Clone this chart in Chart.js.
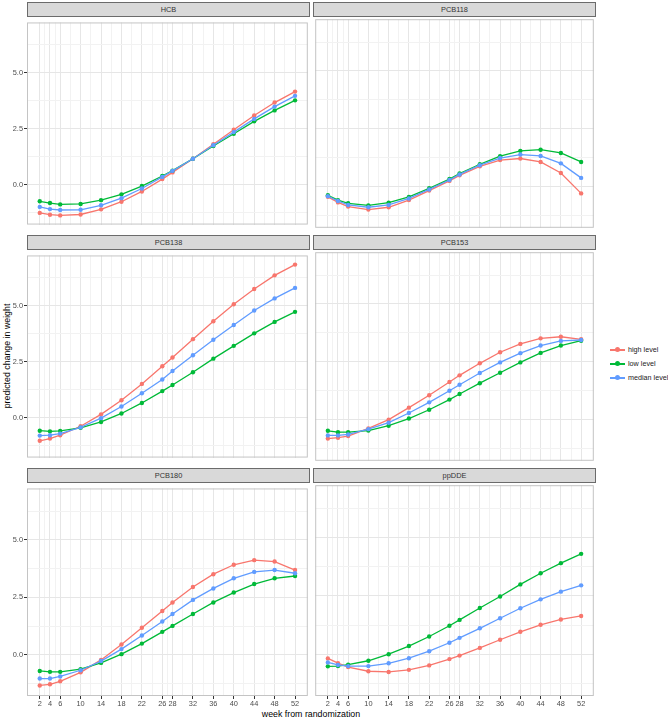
<!DOCTYPE html>
<html>
<head>
<meta charset="utf-8">
<script src="https://cdn.jsdelivr.net/npm/chart.js@4.4.1/dist/chart.umd.min.js"></script>
<style>
  body { margin: 0; background: #ffffff; font-family: "Liberation Sans", Arial, sans-serif; }
  #page { position: relative; width: 668px; height: 720px; overflow: hidden; }
  .strip { position: absolute; height: 15px; background: #d9d9d9; border: 1px solid #6b6b6b;
           box-sizing: border-box; font-size: 7.4px; font-weight: normal; color: #333333;
           text-align: center; line-height: 13px; }
  .cv { position: absolute; }
  #ytitle { position: absolute; left: 7px; top: 356px; transform: translate(-50%, -50%) rotate(-90deg);
            font-size: 8.8px; color: #000; white-space: nowrap; }
  #xtitle { position: absolute; left: 311px; top: 714px; transform: translate(-50%, -50%);
            font-size: 8.8px; color: #000; white-space: nowrap; }
  .leg { position: absolute; left: 610px; height: 12px; font-size: 7.2px; color: #1a1a1a; white-space: nowrap; }
  .leg .ln { position: absolute; left: 0; top: 5px; width: 15px; height: 1.5px; }
  .leg .pt { position: absolute; left: 5px; top: 3px; width: 5px; height: 5px; border-radius: 50%; }
  .leg .tx { position: absolute; left: 18px; top: 0; line-height: 11px; }
</style>
</head>
<body>
<div id="page">
  <div id="ytitle">predicted change in weight</div>
  <div id="xtitle">week from randomization</div>
</div>
<script>
const weeks = [2, 4, 6, 10, 14, 18, 22, 26, 28, 32, 36, 40, 44, 48, 52];
const minorWeeks = [3, 5, 8, 12, 16, 20, 24, 27, 30, 34, 38, 42, 46, 50];
const yMajor = [0, 2.5, 5];
const yMinor = [-1.25, 1.25, 3.75, 6.25];
const levels = ["high level", "low level", "median level"];
const levelColors = ["#F8766D", "#00BA38", "#619CFF"];
const panelNames = ["HCB", "PCB118", "PCB138", "PCB153", "PCB180", "ppDDE"];

const hcbHigh = [-1.27, -1.35, -1.38, -1.34, -1.11, -0.77, -0.31, 0.24, 0.54, 1.15, 1.80, 2.45, 3.08, 3.66, 4.15];
const hcbLow = [-0.75, -0.83, -0.89, -0.87, -0.70, -0.44, -0.07, 0.38, 0.62, 1.15, 1.72, 2.27, 2.82, 3.31, 3.76];
const hcbMedian = [-1.00, -1.10, -1.14, -1.13, -0.93, -0.61, -0.18, 0.34, 0.61, 1.15, 1.75, 2.34, 2.93, 3.48, 3.96];

const pcb118High = [-0.45, -0.69, -0.87, -1.00, -0.90, -0.59, -0.18, 0.24, 0.48, 0.87, 1.14, 1.21, 1.06, 0.58, -0.30];
const pcb118Low = [-0.38, -0.59, -0.73, -0.82, -0.70, -0.45, -0.08, 0.32, 0.56, 0.96, 1.31, 1.54, 1.59, 1.45, 1.06];
const pcb118Median = [-0.42, -0.63, -0.80, -0.90, -0.80, -0.52, -0.13, 0.28, 0.52, 0.92, 1.23, 1.38, 1.32, 1.00, 0.37];

const pcb138High = [-1.04, -0.94, -0.79, -0.39, 0.14, 0.77, 1.50, 2.29, 2.68, 3.50, 4.30, 5.06, 5.74, 6.35, 6.83];
const pcb138Low = [-0.59, -0.62, -0.60, -0.46, -0.20, 0.18, 0.65, 1.18, 1.45, 2.02, 2.63, 3.20, 3.76, 4.27, 4.72];
const pcb138Median = [-0.81, -0.79, -0.72, -0.44, -0.03, 0.49, 1.08, 1.70, 2.08, 2.78, 3.47, 4.13, 4.78, 5.32, 5.79];

const pcb153High = [-0.83, -0.79, -0.72, -0.39, -0.01, 0.51, 1.05, 1.62, 1.91, 2.43, 2.91, 3.27, 3.51, 3.58, 3.47];
const pcb153Low = [-0.49, -0.55, -0.55, -0.48, -0.27, 0.04, 0.42, 0.86, 1.10, 1.57, 2.02, 2.47, 2.88, 3.20, 3.41];
const pcb153Median = [-0.69, -0.69, -0.65, -0.42, -0.14, 0.28, 0.74, 1.24, 1.50, 2.01, 2.47, 2.87, 3.20, 3.40, 3.44];

const pcb180High = [-1.33, -1.28, -1.15, -0.76, -0.22, 0.45, 1.18, 1.91, 2.28, 2.95, 3.51, 3.92, 4.12, 4.06, 3.69];
const pcb180Low = [-0.70, -0.74, -0.74, -0.62, -0.35, 0.03, 0.49, 1.00, 1.26, 1.78, 2.28, 2.71, 3.08, 3.33, 3.43];
const pcb180Median = [-1.03, -1.03, -0.94, -0.67, -0.27, 0.25, 0.84, 1.45, 1.78, 2.39, 2.89, 3.33, 3.61, 3.69, 3.55];

const ppddeHigh = [-0.18, -0.38, -0.55, -0.73, -0.76, -0.67, -0.48, -0.21, -0.06, 0.27, 0.62, 0.96, 1.26, 1.49, 1.64];
const ppddeLow = [-0.52, -0.51, -0.45, -0.28, 0.00, 0.35, 0.76, 1.22, 1.47, 1.98, 2.47, 2.99, 3.47, 3.90, 4.30];
const ppddeMedian = [-0.35, -0.46, -0.51, -0.51, -0.39, -0.17, 0.13, 0.49, 0.70, 1.11, 1.54, 1.97, 2.35, 2.68, 2.95];

const panelSeries = [
  [hcbHigh, hcbLow, hcbMedian],
  [pcb118High, pcb118Low, pcb118Median],
  [pcb138High, pcb138Low, pcb138Median],
  [pcb153High, pcb153Low, pcb153Median],
  [pcb180High, pcb180Low, pcb180Median],
  [ppddeHigh, ppddeLow, ppddeMedian],
];

const Y_MIN = -1.79;
const Y_MAX = 7.24;
const X_MIN = -0.5;
const X_MAX = 54.5;

const PANEL_W = 283;
const PANEL_H = 213;
const COL_X = [27, 313];
const ROW_Y = [17, 250, 483];
const AXIS_W = 27;
const AXIS_H = 18;
const TICK_FONT = { family: "'Liberation Sans', Arial, sans-serif", size: 7.4 };

const page = document.getElementById("page");

const borderPlugin = {
  id: "panelBorder",
  afterDraw(chart) {
    const a = chart.chartArea;
    const ctx = chart.ctx;
    ctx.save();
    ctx.strokeStyle = "#c4c4c4";
    ctx.lineWidth = 1;
    ctx.strokeRect(a.left + 0.5, a.top + 0.5, a.right - a.left - 1, a.bottom - a.top - 1);
    ctx.restore();
  },
};

function isMajor(list, v) {
  return list.some((m) => Math.abs(m - v) < 1e-6);
}

function makePanel(i) {
  const col = i % 2;
  const row = Math.floor(i / 2);
  const showY = col === 0;
  const showX = row === 2;
  const leftW = showY ? AXIS_W : 0;
  const bottomH = showX ? AXIS_H : 0;

  // strip
  const strip = document.createElement("div");
  strip.className = "strip";
  strip.style.left = COL_X[col] + "px";
  strip.style.top = ROW_Y[row] - 15 + "px";
  strip.style.width = PANEL_W + "px";
  strip.textContent = panelNames[i];
  page.appendChild(strip);

  const cv = document.createElement("canvas");
  cv.className = "cv";
  cv.width = leftW + PANEL_W;
  cv.height = PANEL_H + bottomH;
  cv.style.left = COL_X[col] - leftW + "px";
  cv.style.top = ROW_Y[row] + "px";
  page.appendChild(cv);

  const datasets = panelSeries[i].map((vals, k) => ({
    label: levels[k],
    data: weeks.map((w, j) => ({ x: w, y: vals[j] })),
    borderColor: levelColors[k],
    backgroundColor: levelColors[k],
    borderWidth: 1.3,
    pointRadius: 2.2,
    pointHoverRadius: 2.2,
    pointBorderWidth: 0,
    tension: 0,
    order: 3 - k,
  }));

  new Chart(cv, {
    type: "line",
    data: { datasets: datasets },
    options: {
      responsive: false,
      animation: false,
      devicePixelRatio: 1,
      layout: { padding: 0 },
      plugins: { legend: { display: false }, tooltip: { enabled: false } },
      scales: {
        x: {
          type: "linear",
          min: X_MIN,
          max: X_MAX,
          afterBuildTicks(scale) {
            scale.ticks = weeks.concat(minorWeeks).sort((a, b) => a - b).map((v) => ({ value: v }));
          },
          afterFit(scale) {
            scale.height = bottomH;
          },
          border: { display: false },
          grid: {
            color: (c) => (c.tick && isMajor(weeks, c.tick.value) ? "#e6e6e6" : "#f2f2f2"),
            lineWidth: 1,
            drawTicks: showX,
            tickLength: 3,
            tickColor: (c) => (c.tick && isMajor(weeks, c.tick.value) ? "#333333" : "rgba(0,0,0,0)"),
          },
          ticks: {
            display: showX,
            autoSkip: false,
            maxRotation: 0,
            padding: 1,
            color: "#4d4d4d",
            font: TICK_FONT,
            callback: (v) => (isMajor(weeks, v) ? String(v) : ""),
          },
        },
        y: {
          type: "linear",
          min: Y_MIN,
          max: Y_MAX,
          afterBuildTicks(scale) {
            scale.ticks = yMajor.concat(yMinor).sort((a, b) => a - b).map((v) => ({ value: v }));
          },
          afterFit(scale) {
            scale.width = leftW;
          },
          border: { display: false },
          grid: {
            color: (c) => (c.tick && isMajor(yMajor, c.tick.value) ? "#e6e6e6" : "#f2f2f2"),
            lineWidth: 1,
            drawTicks: showY,
            tickLength: 3,
            tickColor: (c) => (c.tick && isMajor(yMajor, c.tick.value) ? "#333333" : "rgba(0,0,0,0)"),
          },
          ticks: {
            display: showY,
            autoSkip: false,
            padding: 1,
            color: "#4d4d4d",
            font: TICK_FONT,
            callback: (v) => (isMajor(yMajor, v) ? v.toFixed(1) : ""),
          },
        },
      },
    },
    plugins: [borderPlugin],
  });
}

for (let i = 0; i < panelNames.length; i++) {
  makePanel(i);
}

// legend
const legendY = [344, 358, 372];
levels.forEach((lab, k) => {
  const d = document.createElement("div");
  d.className = "leg";
  d.style.top = legendY[k] + "px";
  d.innerHTML =
    '<div class="ln" style="background:' + levelColors[k] + '"></div>' +
    '<div class="pt" style="background:' + levelColors[k] + '"></div>' +
    '<div class="tx">' + lab + "</div>";
  page.appendChild(d);
});
</script>
</body>
</html>
